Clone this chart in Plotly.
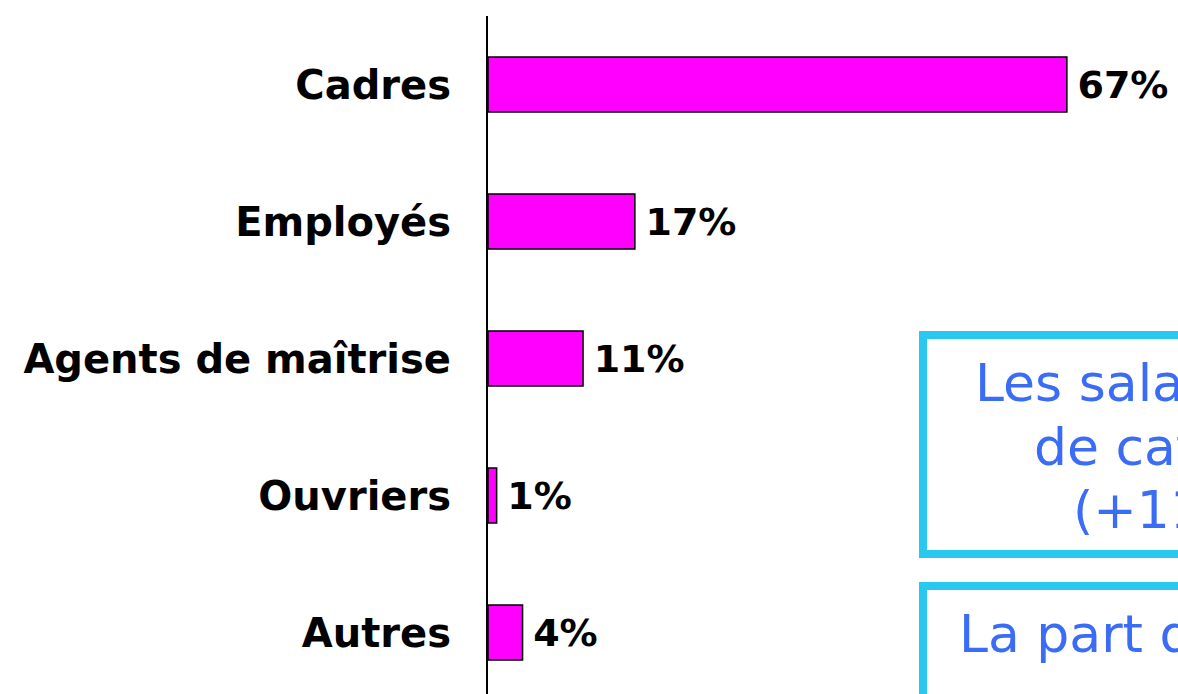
import plotly.graph_objects as go

categories = ["Cadres", "Employés", "Agents de maîtrise", "Ouvriers", "Autres"]
values = [67, 17, 11, 1, 4]

box1_lines = ["Les salariés sont majoritairement", "de catégorie cadres", "(+11 points)"]
box2_lines = ["La part des cadres progresse"]

W, H = 1178, 694
L, T = 488, 16
PW, PH = W - L, H - T

def px(x):
    return (x - L) / PW

def py(y):
    return (H - y) / PH

fig = go.Figure()
fig.add_trace(go.Bar(
    x=values, y=categories, orientation="h",
    marker=dict(color="#FF00FF", line=dict(color="black", width=1.5)),
    width=0.4,
    text=values,
    texttemplate="\u2009%{x}%",
    textposition="outside",
    constraintext="none",
    cliponaxis=False,
    textfont=dict(family="DejaVu Sans", size=38, color="black", weight="bold"),
))

cyan = "#29C8F0"
blue = "#3A6CF5"
fig.add_shape(type="rect", xref="paper", yref="paper",
              x0=px(923), x1=1.6, y0=py(554), y1=py(335),
              line=dict(color=cyan, width=8), fillcolor="rgba(0,0,0,0)")
fig.add_shape(type="rect", xref="paper", yref="paper",
              x0=px(923), x1=1.6, y0=-0.2, y1=py(586),
              line=dict(color=cyan, width=8), fillcolor="rgba(0,0,0,0)")

line_pos = [(973, 383), (1032, 447), (1071, 510)]
for txt, (xx, yy) in zip(box1_lines, line_pos):
    fig.add_annotation(text=txt, xref="paper", yref="paper", x=px(xx), y=py(yy),
                       xanchor="left", yanchor="middle", showarrow=False,
                       font=dict(family="DejaVu Sans", size=52, color=blue))
for txt in box2_lines:
    fig.add_annotation(text=txt, xref="paper", yref="paper", x=px(957), y=py(634),
                       xanchor="left", yanchor="middle", showarrow=False,
                       font=dict(family="DejaVu Sans", size=52, color=blue))

fig.update_layout(
    width=W, height=H,
    margin=dict(l=L, r=0, t=T, b=0, pad=0),
    plot_bgcolor="white", paper_bgcolor="white",
    showlegend=False,
    bargap=0.6,
)
fig.update_xaxes(range=[0, PW / 8.64], visible=False, showgrid=False, zeroline=False)
fig.update_yaxes(
    type="category",
    categoryorder="array", categoryarray=categories,
    range=[-0.5 + PH / 137.0, -0.5],
    showline=True, linecolor="black", linewidth=2,
    showgrid=False, zeroline=False, ticks="",
    ticklabelstandoff=27,
    tickfont=dict(family="DejaVu Sans", size=40, color="black", weight="bold"),
)

fig.write_html(
    "out.html",
    config={"displayModeBar": False},
    post_script="document.body.style.margin='0';document.body.style.overflow='hidden';",
)
